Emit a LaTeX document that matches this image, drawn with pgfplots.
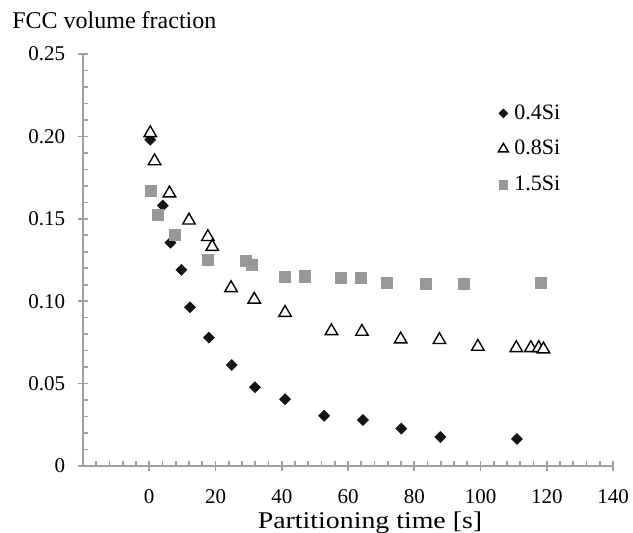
\documentclass[border=0pt]{standalone}
\usepackage{fontspec}
\setmainfont{Liberation Serif}
\usepackage{pgfplots}
\pgfplotsset{compat=1.18}
\definecolor{axgray}{RGB}{160,160,160}
\definecolor{sqgray}{RGB}{152,152,152}
\definecolor{dkfill}{RGB}{20,20,20}

\begin{document}
\begin{tikzpicture}
\begin{axis}[
    scale only axis, width=265pt, height=206pt,
    xmin=-20, xmax=140, ymin=0, ymax=0.25,
    axis lines*=left, axis line style={axgray, line width=1pt, -},
    clip=false,
    xtick={0,20,40,60,80,100,120,140},
    xticklabels={0,20,40,60,80,100,120,140},
    ytick={0,0.05,0.1,0.15,0.2,0.25},
    yticklabels={0,0.05,0.10,0.15,0.20,0.25},
    minor xtick={-16,-12,-8,-4,4,8,12,16,24,28,32,36,44,48,52,56,64,68,72,76,84,88,92,96,104,108,112,116,124,128,132,136},
    minor ytick={0.01,0.02,0.03,0.04,0.06,0.07,0.08,0.09,0.11,0.12,0.13,0.14,0.16,0.17,0.18,0.19,0.21,0.22,0.23,0.24},
    tick align=center, major tick length=5.3pt, minor tick length=2.6pt,
    tick style={axgray, line width=0.8pt},
    minor x tick style={yshift=1.3pt}, minor y tick style={xshift=1.3pt},
    xticklabel style={yshift=-5.5pt}, yticklabel style={xshift=-2.7pt},
    tick label style={font=\fontsize{10.5}{12}\selectfont},
    legend style={at={(rel axis cs:0.783,0.883)}, anchor=north west, draw=none, fill=none,
        font=\fontsize{11}{13}\selectfont, row sep=7pt, column sep=2pt, inner sep=0pt,
        nodes={inner sep=1pt}},
    legend cell align=left,
    legend image code/.code={\draw[#1, every mark/.append style={scale=0.8}] plot coordinates {(0pt,0pt)};},
]
% 0.4Si
\addplot[only marks, mark=square*, mark size=1.9pt, mark options={rotate=45, fill=dkfill, draw=dkfill}] coordinates {
(0.3,0.198) (4.1,0.158) (6.4,0.1355) (9.7,0.119) (12.3,0.0963) (18.0,0.0779) (24.9,0.0613)
(31.9,0.0478) (41.0,0.0405) (52.8,0.0305) (64.5,0.0279) (76.1,0.0227) (87.9,0.0176) (111.0,0.0164)
};
% 0.8Si
\addplot[only marks, mark=triangle*, mark size=3.6pt, mark options={draw=black, fill=white, line width=0.7pt}] coordinates {
(0.3,0.202) (1.6,0.185) (6.1,0.1655) (12.0,0.149) (17.7,0.139) (19.0,0.133) (24.7,0.108)
(31.7,0.101) (41.0,0.093) (55.0,0.0819) (64.2,0.0815) (75.9,0.0769) (87.6,0.0765) (99.2,0.0724)
(110.8,0.0716) (115.2,0.0716) (117.6,0.0716) (119.0,0.0708)
};
% 1.5Si
\addplot[only marks, mark=square*, mark size=2.8pt, color=sqgray] coordinates {
(0.5,0.167) (2.6,0.1523) (7.7,0.1404) (17.7,0.125) (29.2,0.1246) (30.9,0.122) (40.9,0.1145)
(47.0,0.1151) (57.8,0.1143) (64.0,0.1143) (71.7,0.1109) (83.4,0.1104) (94.9,0.1104) (118.2,0.1109)
};
\legend{0.4Si,0.8Si,1.5Si}
\coordinate (O) at (rel axis cs:0,0);
\node[anchor=base west, inner sep=0pt, font=\fontsize{12}{14}\selectfont] at (rel axis cs:-0.134,1.0607) {FCC volume fraction};
\node[anchor=base, inner sep=0pt] at (rel axis cs:0.5415,-0.152) {\scalebox{1.16}[1]{\fontsize{12}{14}\selectfont Partitioning time [s]}};
\end{axis}
\pgfresetboundingbox
\path[use as bounding box] (O) ++(-41.5pt,-33.5pt) rectangle ++(316.5pt,266.5pt);
\end{tikzpicture}
\end{document}
